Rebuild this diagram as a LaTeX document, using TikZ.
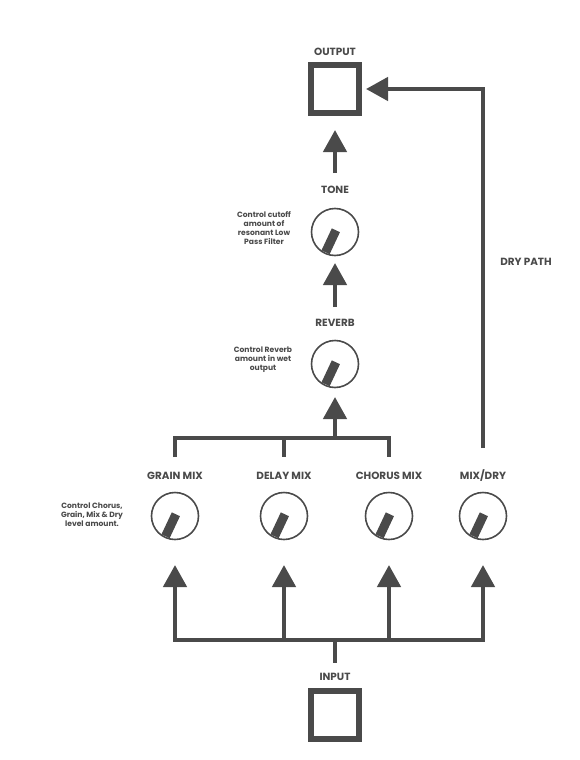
\documentclass[tikz,border=0pt]{standalone}
\usepackage{fontspec}
\setmainfont{Poppins}
\usetikzlibrary{arrows.meta,calc}
\definecolor{ink}{HTML}{4A4A4A}
\begin{document}
\begin{tikzpicture}[x=1pt,y=-1pt,
  lab/.style={text=ink,font=\bfseries\fontsize{10.4}{11}\selectfont,inner sep=0pt},
  note/.style={text=ink,font=\bfseries\fontsize{7.6}{8.9}\selectfont,align=center,inner sep=0pt},
  box/.style={draw=ink,line width=6pt,minimum size=48pt,inner sep=0pt},
  knob/.style={circle,draw=ink,line width=1.6pt,minimum size=47pt,inner sep=0pt},
  wire/.style={draw=ink,line width=4.5pt},
  arr/.style={draw=ink,line width=4.5pt,-{Triangle[width=23pt,length=22pt]}},
  ptr/.style={draw=ink,line width=9pt}]
\path[fill=white] (0,0) rectangle (580,760);
\useasboundingbox (0,0) rectangle (580,760);
% nodes
\node[lab] (outL) at (335,52) {OUTPUT};
\node[box] (out) at (335,89) {};
\node[lab] (toneL) at (335,190) {TONE};
\node[knob] (tone) at (335,232) {};
\node[note] (toneN) at (264,228) {Control cutoff\\amount of\\resonant Low\\Pass Filter};
\node[lab] (revL) at (335,323) {REVERB};
\node[knob] (rev) at (335,364) {};
\node[note] (revN) at (263,360) {Control Reverb\\amount in wet\\output};
\node[lab] (grainL) at (175,476) {GRAIN MIX};
\node[lab] (delayL) at (284,476) {DELAY MIX};
\node[lab] (chorusL) at (389,476) {CHORUS MIX};
\node[lab] (mixL) at (483,476) {MIX/DRY};
\node[knob] (grain) at (175,516) {};
\node[knob] (delay) at (284,516) {};
\node[knob] (chorus) at (389,516) {};
\node[knob] (mix) at (483,516) {};
\node[note] (grainN) at (92,515) {Control Chorus,\\Grain, Mix \& Dry\\level amount.};
\node[lab] (inL) at (335,676.5) {INPUT};
\node[box] (in) at (335,714.5) {};
\node[lab] (dryL) at (526,262) {DRY PATH};
% knob pointers
\foreach \k in {tone,rev,grain,delay,chorus,mix}
  \draw[ptr] ($(\k.center)!0.08!(\k.63)$) -- ($(\k.center)!0.92!(\k.245)$);
% coordinates
\coordinate (t1) at (335,173);
\coordinate (t2) at (335,307);
\coordinate (ub) at (335,438);
\coordinate (ubL) at (175,438);
\coordinate (ubM) at (284,438);
\coordinate (ubR) at (389,438);
\coordinate (usL) at (175,457);
\coordinate (usM) at (284,457);
\coordinate (usR) at (389,457);
\coordinate (lbL) at (175,640);
\coordinate (lbM) at (284,640);
\coordinate (lbR) at (389,640);
\coordinate (lbD) at (483,640);
\coordinate (lbC) at (335,640);
\coordinate (inS) at (335,663);
\coordinate (d0) at (483,448);
% connectors
\draw[arr,shorten >=14pt] (t1) -- (out.south);
\draw[arr,shorten >=6.7pt] (t2) -- (tone.south);
\draw[wire] (usL) -- (ubL) -- (ubR) -- (usR);
\draw[wire] (ubM) -- (usM);
\draw[arr,shorten >=8.7pt] (ub) -- (rev.south);
\draw[wire,line cap=rect] (lbL) -- (lbD);
\draw[wire] (lbC) -- (inS);
\draw[arr,shorten >=24.7pt] (lbL) -- (grain.south);
\draw[arr,shorten >=24.7pt] (lbM) -- (delay.south);
\draw[arr,shorten >=24.7pt] (lbR) -- (chorus.south);
\draw[arr,shorten >=24.7pt] (lbD) -- (mix.south);
\draw[arr,shorten >=4pt] (d0) |- (out.east);
\end{tikzpicture}
\end{document}
